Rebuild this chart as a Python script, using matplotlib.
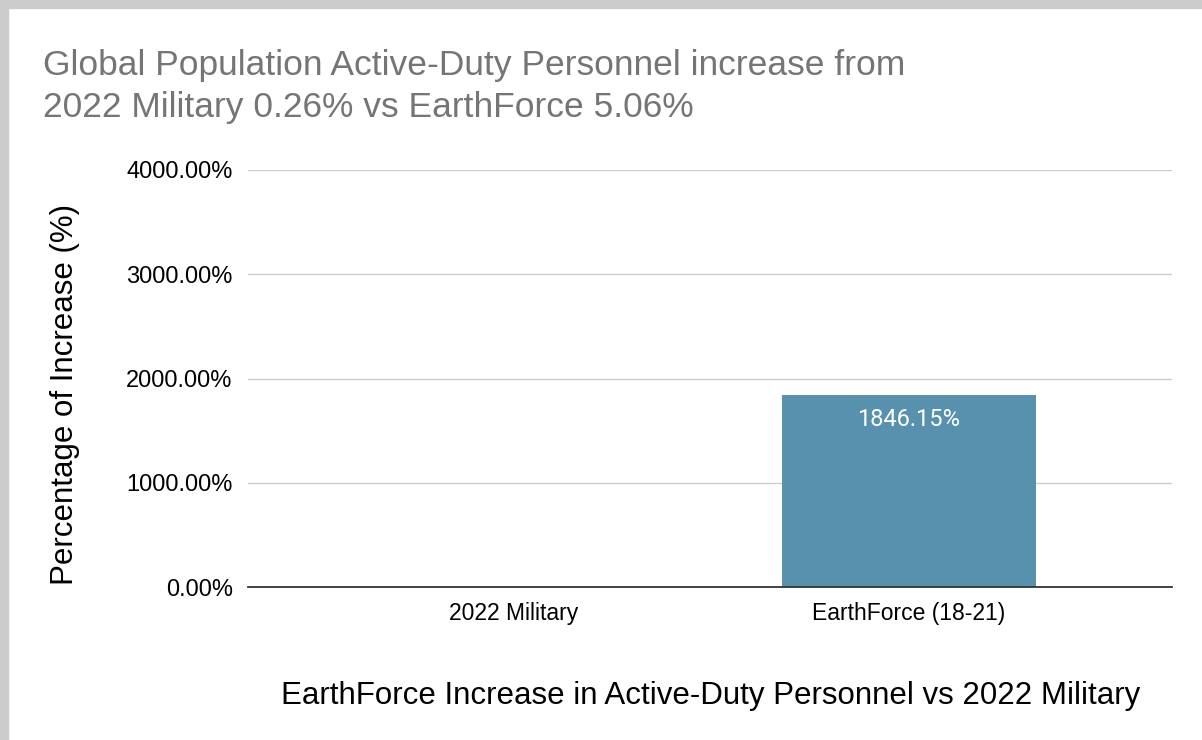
import matplotlib.pyplot as plt
import numpy as np

plt.rcParams['font.family'] = ['Liberation Sans', 'DejaVu Sans']

# data
categories = ['2022 Military', 'EarthForce (18-21)']
values = [0.0, 1846.15]
bar_labels = ['', '1846.15%']
yticks = [0, 1000, 2000, 3000, 4000]

fig = plt.figure(figsize=(12.02, 7.40), dpi=100)

# grey frame at left/top
fig.patches.append(plt.Rectangle((0, 0), 8 / 1202, 1, transform=fig.transFigure,
                                 color='#cccccc', zorder=0))
fig.patches.append(plt.Rectangle((0, 1 - 8 / 740), 1, 8 / 740, transform=fig.transFigure,
                                 color='#cccccc', zorder=0))

ax = fig.add_axes([248 / 1202, 1 - 587 / 740, (1172 - 248) / 1202, (587 - 170) / 740])

x = np.arange(len(categories))
bars = ax.bar(x, values, width=0.643, color='#5891ad', zorder=3)

for b, lab in zip(bars, bar_labels):
    if lab:
        ax.text(b.get_x() + b.get_width() / 2, b.get_height() - 240, lab,
                ha='center', va='center', color='white', fontsize=17, family='Roboto')

ax.set_xlim(-0.673, 1.666)
ax.set_ylim(0, 4000)
ax.set_xticks(x)
ax.set_xticklabels(categories, fontsize=16.5)
ax.set_yticks(yticks)
ax.set_yticklabels([f'{v:.2f}%' for v in yticks], fontsize=17)
ax.tick_params(length=0)
ax.tick_params(axis='x', pad=11)
ax.tick_params(axis='y', pad=11)

ax.grid(axis='y', color='#cccccc', linewidth=1, zorder=0)
for s in ['top', 'right', 'left']:
    ax.spines[s].set_visible(False)
ax.spines['bottom'].set_color('#333333')
ax.spines['bottom'].set_linewidth(1.3)
ax.spines['bottom'].set_zorder(4)

fig.text(43 / 1202, 1 - 66 / 740, 'Global Population Active-Duty Personnel increase from',
         fontsize=25.5, color='#757575', va='center', ha='left')
fig.text(43 / 1202, 1 - 108 / 740, '2022 Military 0.26% vs EarthForce 5.06%',
         fontsize=25.5, color='#757575', va='center', ha='left')

fig.text(65 / 1202, 1 - 394 / 740, 'Percentage of Increase (%)', rotation=90,
         fontsize=22.5, color='black', va='center', ha='center')
fig.text(711 / 1202, 1 - 696 / 740, 'EarthForce Increase in Active-Duty Personnel vs 2022 Military',
         fontsize=22.5, color='black', va='center', ha='center')

plt.savefig('out.png', dpi=100)
